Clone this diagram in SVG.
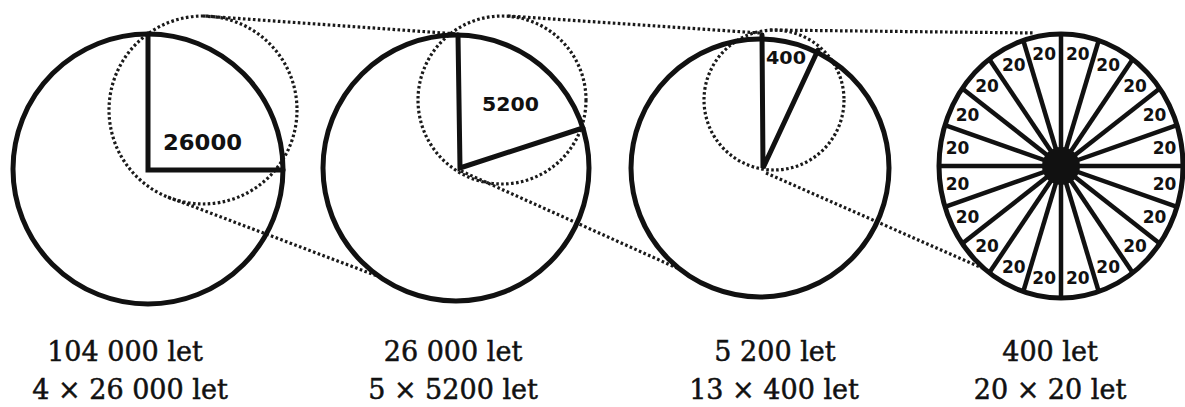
<svg xmlns="http://www.w3.org/2000/svg" width="1185" height="407" viewBox="0 0 1185 407">
<style>
.c{fill:none;stroke:#111;stroke-width:5}
.r{stroke:#111;stroke-width:5;stroke-linecap:round}
.s{stroke:#111;stroke-width:4.5}
.d{fill:none;stroke:#1a1a1a;stroke-width:3.2;stroke-dasharray:2.6 2.4}
.n{font-family:"DejaVu Sans",sans-serif;font-weight:bold;fill:#111}
.t{font-family:"DejaVu Sans",sans-serif;font-weight:bold;font-size:17px;fill:#111;text-anchor:middle;dominant-baseline:central}
.cap{font-family:"DejaVu Serif",serif;font-size:27px;fill:#111;stroke:#111;stroke-width:0.5;text-anchor:middle}
</style>
<rect width="1185" height="407" fill="#fff"/>
<g id="connectors">
<circle class="d" cx="203" cy="110" r="94"/>
<line class="d" x1="203" y1="16" x2="458" y2="34"/>
<line class="d" x1="168" y1="197" x2="380" y2="277"/>
<circle class="d" cx="502" cy="100" r="84"/>
<line class="d" x1="508" y1="16" x2="760" y2="33"/>
<line class="d" x1="461" y1="171" x2="677" y2="268"/>
<circle class="d" cx="774" cy="100" r="70"/>
<line class="d" x1="770" y1="30" x2="1035" y2="33"/>
<line class="d" x1="766" y1="173" x2="982" y2="268"/>
</g>
<g id="node1">
<circle class="c" cx="148" cy="169" r="135"/>
<polyline class="r" fill="none" points="148,34 148,170 283,170"/>
<text class="n" x="163" y="150" font-size="22" textLength="79" lengthAdjust="spacingAndGlyphs">26000</text>
</g>
<g id="node2">
<circle class="c" cx="456" cy="168" r="133"/>
<polyline class="r" fill="none" points="458,35 460,168 583,128"/>
<text class="n" x="482" y="111" font-size="20" textLength="57" lengthAdjust="spacingAndGlyphs">5200</text>
</g>
<g id="node3">
<circle class="c" cx="760" cy="168" r="129"/>
<polyline class="r" fill="none" points="762,35 763,168 818,50"/>
<text class="n" x="766" y="64" font-size="17" textLength="40" lengthAdjust="spacingAndGlyphs">400</text>
</g>
<g id="node4">
<ellipse class="c" cx="1061" cy="166" rx="122" ry="132"/>
<g class="s">
<line x1="1061" y1="166" x2="1183" y2="166"/>
<line x1="1061" y1="166" x2="1177" y2="125.2"/>
<line x1="1061" y1="166" x2="1159.7" y2="88.4"/>
<line x1="1061" y1="166" x2="1132.7" y2="59.2"/>
<line x1="1061" y1="166" x2="1098.7" y2="40.5"/>
<line x1="1061" y1="166" x2="1061" y2="34"/>
<line x1="1061" y1="166" x2="1023.3" y2="40.5"/>
<line x1="1061" y1="166" x2="989.3" y2="59.2"/>
<line x1="1061" y1="166" x2="962.3" y2="88.4"/>
<line x1="1061" y1="166" x2="945" y2="125.2"/>
<line x1="1061" y1="166" x2="939" y2="166"/>
<line x1="1061" y1="166" x2="945" y2="206.8"/>
<line x1="1061" y1="166" x2="962.3" y2="243.6"/>
<line x1="1061" y1="166" x2="989.3" y2="272.8"/>
<line x1="1061" y1="166" x2="1023.3" y2="291.5"/>
<line x1="1061" y1="166" x2="1061" y2="298"/>
<line x1="1061" y1="166" x2="1098.7" y2="291.5"/>
<line x1="1061" y1="166" x2="1132.7" y2="272.8"/>
<line x1="1061" y1="166" x2="1159.7" y2="243.6"/>
<line x1="1061" y1="166" x2="1177" y2="206.8"/>
</g>
<circle cx="1061" cy="166" r="19" fill="#111"/>
<text class="t" x="1164.5" y="148.3">20</text>
<text class="t" x="1154.5" y="114.7">20</text>
<text class="t" x="1135" y="86.1">20</text>
<text class="t" x="1108.2" y="65.3">20</text>
<text class="t" x="1077.8" y="54.4">20</text>
<text class="t" x="1044.2" y="54.4">20</text>
<text class="t" x="1013.8" y="65.3">20</text>
<text class="t" x="987" y="86.1">20</text>
<text class="t" x="967.5" y="114.7">20</text>
<text class="t" x="957.5" y="148.3">20</text>
<text class="t" x="957.5" y="183.7">20</text>
<text class="t" x="967.5" y="217.3">20</text>
<text class="t" x="987" y="245.9">20</text>
<text class="t" x="1013.8" y="266.7">20</text>
<text class="t" x="1044.2" y="277.6">20</text>
<text class="t" x="1077.8" y="277.6">20</text>
<text class="t" x="1108.2" y="266.7">20</text>
<text class="t" x="1135" y="245.9">20</text>
<text class="t" x="1154.5" y="217.3">20</text>
<text class="t" x="1164.5" y="183.7">20</text>
</g>
<g id="captions">
<text class="cap" x="125" y="361">104 000 let</text>
<text class="cap" x="130" y="399">4 × 26 000 let</text>
<text class="cap" x="453" y="361">26 000 let</text>
<text class="cap" x="453" y="399">5 × 5200 let</text>
<text class="cap" x="775" y="361">5 200 let</text>
<text class="cap" x="774" y="399">13 × 400 let</text>
<text class="cap" x="1050" y="361">400 let</text>
<text class="cap" x="1050" y="399">20 × 20 let</text>
</g>
</svg>
